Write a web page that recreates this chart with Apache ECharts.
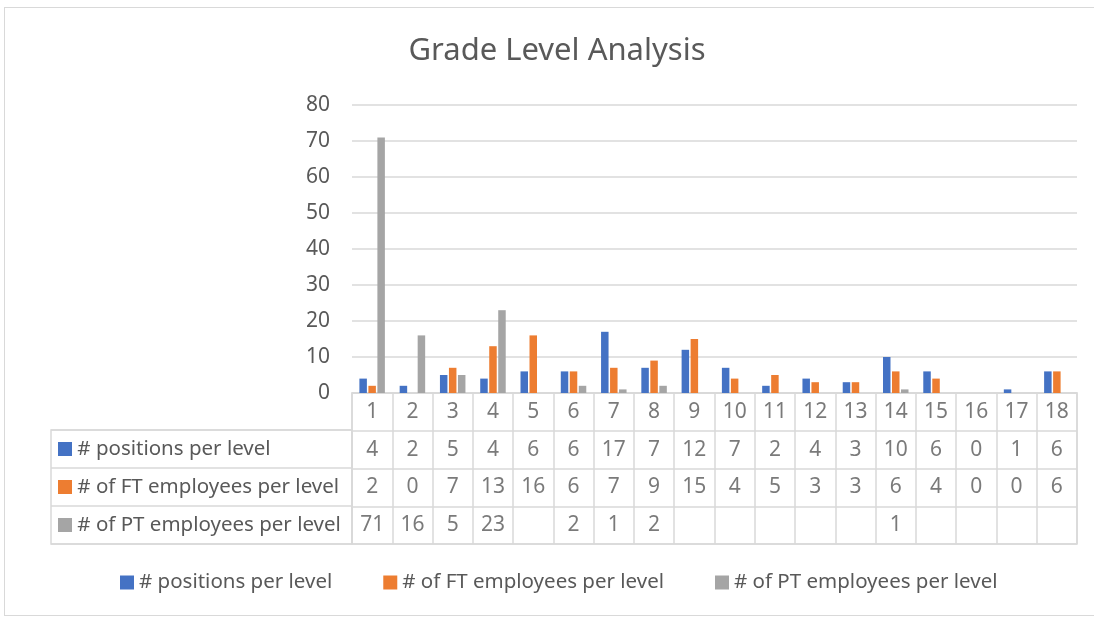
<!DOCTYPE html>
<html>
<head>
<meta charset="utf-8">
<script src="https://cdn.jsdelivr.net/npm/echarts@6/dist/echarts.min.js"></script>
<style>
  html, body { margin: 0; padding: 0; background: #fff; overflow: hidden; }
  #frame { position: absolute; left: 4px; top: 7px; width: 1100px; height: 609px; border: 1px solid #d9d9d9; box-sizing: border-box; }
  #chart { position: absolute; left: 0; top: 0; width: 1094px; height: 619px; }
</style>
</head>
<body>
<div id="frame"></div>
<div id="chart"></div>
<script>
// data
var levels = ['1','2','3','4','5','6','7','8','9','10','11','12','13','14','15','16','17','18']
var seriesNames = ['# positions per level', '# of FT employees per level', '# of PT employees per level']
var positions = [4, 2, 5, 4, 6, 6, 17, 7, 12, 7, 2, 4, 3, 10, 6, 0, 1, 6]
var ftEmployees = [2, 0, 7, 13, 16, 6, 7, 9, 15, 4, 5, 3, 3, 6, 4, 0, 0, 6]
var ptEmployees = [71, 16, 5, 23, null, 2, 1, 2, null, null, null, null, null, 1, null, null, null, null]
var yTicks = [0, 80, 10]  // min, max, interval

var colors = ['#4472C4', '#ED7D31', '#A5A5A5']
var txt = '#595959'
var lineCol = '#d9d9d9'
var font = 'Noto Sans'

// cells of the data table: row 0 = level labels, rows 1..3 = series values
var cells = []
levels.forEach(function(l, i){ cells.push([i, 0, l]) })
;[positions, ftEmployees, ptEmployees].forEach(function(arr, r){
    arr.forEach(function(v, i){
        if (v !== null) cells.push([i, r + 1, String(v)])
    })
})

var myChart = echarts.init(document.getElementById('chart'))
var option = {
    color: colors,
    animation: false,
    textStyle: { fontFamily: font },
    title: {
        text: 'Grade Level Analysis',
        left: 552, top: 31, textAlign: 'center',
        textStyle: { fontFamily: font, fontSize: 31, fontWeight: 'normal', color: txt }
    },
    legend: {
        data: seriesNames,
        left: 115, top: 567,
        icon: 'rect', itemWidth: 14, itemHeight: 14, itemGap: 51,
        textStyle: { fontSize: 20.5, color: txt, fontFamily: font }
    },
    grid: [
        { left: 352, top: 105, width: 725, height: 288, containLabel: false },
        { left: 352, top: 393, width: 725, height: 151, show: true, borderColor: lineCol, borderWidth: 1.5 },
        { left: 51, top: 430, width: 301, height: 114, show: true, borderColor: lineCol, borderWidth: 1.5 }
    ],
    xAxis: [
        { type: 'category', gridIndex: 0, data: levels,
          axisLine: { lineStyle: { color: lineCol, width: 1.5 } },
          axisTick: { show: false }, axisLabel: { show: false } },
        { type: 'category', gridIndex: 1, data: levels,
          axisLine: { show: false }, axisTick: { show: false }, axisLabel: { show: false },
          splitLine: { show: true, interval: 0, lineStyle: { color: lineCol, width: 1.5 } } },
        { type: 'value', gridIndex: 2, min: 0, max: 1, show: false }
    ],
    yAxis: [
        { type: 'value', gridIndex: 0, min: yTicks[0], max: yTicks[1], interval: yTicks[2],
          axisLine: { show: false }, axisTick: { show: false },
          axisLabel: { color: txt, fontSize: 21, margin: 22, fontFamily: font },
          splitLine: { lineStyle: { color: lineCol, width: 1.5 } } },
        { type: 'category', gridIndex: 1, inverse: true, data: ['level'].concat(seriesNames),
          axisLine: { show: false }, axisTick: { show: false }, axisLabel: { show: false },
          splitLine: { show: true, interval: 0, lineStyle: { color: lineCol, width: 1.5 } } },
        { type: 'category', gridIndex: 2, inverse: true, data: seriesNames,
          axisLine: { show: false }, axisTick: { show: false },
          splitLine: { show: true, interval: 0, lineStyle: { color: lineCol, width: 1.5 } },
          axisLabel: {
              inside: true, margin: 7, color: txt, fontSize: 20.5, fontFamily: font, interval: 0,
              formatter: function(value, idx){ return '{s' + idx + '|} ' + value },
              rich: {
                  s0: { width: 14, height: 14, backgroundColor: colors[0] },
                  s1: { width: 14, height: 14, backgroundColor: colors[1] },
                  s2: { width: 14, height: 14, backgroundColor: colors[2] }
              }
          } }
    ],
    series: [
        { name: seriesNames[0], type: 'bar', data: positions, barWidth: 7.5, barGap: '20%' },
        { name: seriesNames[1], type: 'bar', data: ftEmployees, barWidth: 7.5, barGap: '20%' },
        { name: seriesNames[2], type: 'bar', data: ptEmployees, barWidth: 7.5, barGap: '20%' },
        { type: 'scatter', xAxisIndex: 1, yAxisIndex: 1, data: cells,
          symbol: 'rect', symbolSize: 1, itemStyle: { color: 'rgba(0,0,0,0)' },
          silent: true,
          label: { show: true, position: 'inside', color: txt, fontSize: 21, fontFamily: font,
                   formatter: function(p){ return p.value[2] } } }
    ]
}
myChart.setOption(option)
</script>
</body>
</html>
